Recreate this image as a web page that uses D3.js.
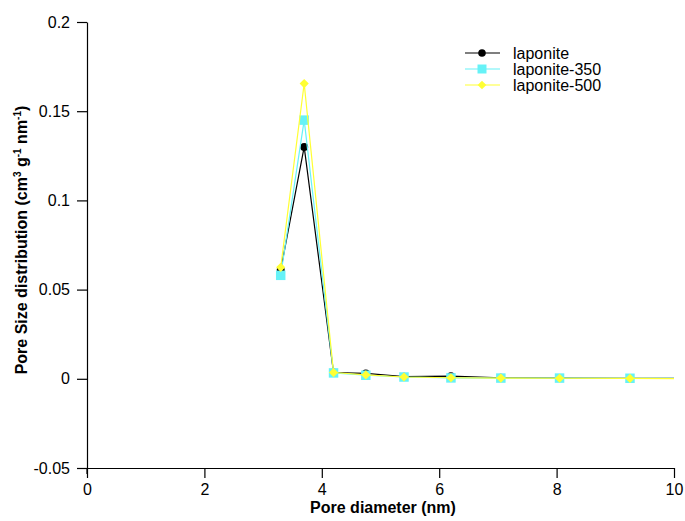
<!DOCTYPE html>
<html><head><meta charset="utf-8">
<script src="https://cdn.jsdelivr.net/npm/d3@7"></script>
<style>body{margin:0;background:#fff}svg{display:block}text{font-family:"Liberation Sans",Arial,sans-serif}</style>
</head><body>
<svg id="c" width="685" height="521"></svg>
<script>
const poreDiameter = [3.3, 3.7, 4.2, 4.75, 5.4, 6.2, 7.05, 8.05, 9.25, 10.6];
const laponite    = [0.061, 0.130, 0.0035, 0.0030, 0.0012, 0.0015, 0.0006, 0.0004, 0.0003, 0.0002];
const laponite350 = [0.058, 0.145, 0.0033, 0.0020, 0.0010, 0.0005, 0.0004, 0.0004, 0.0003, 0.0002];
const laponite500 = [0.0625, 0.1655, 0.0035, 0.0022, 0.0010, 0.0006, 0.0004, 0.0003, 0.0002, 0.0001];
const seriesNames = ["laponite", "laponite-350", "laponite-500"];
const xTicks = [0, 2, 4, 6, 8, 10];
const yTicks = [-0.05, 0, 0.05, 0.1, 0.15, 0.2];

const svg = d3.select("#c");
const x = d3.scaleLinear().domain([0, 10]).range([87, 674]);
const y = d3.scaleLinear().domain([-0.05, 0.2]).range([468, 22]);

svg.append("defs").append("clipPath").attr("id","clip")
  .append("rect").attr("x",87).attr("y",0).attr("width",587).attr("height",468);

// axes
const yAxis = svg.append("g").attr("transform","translate(87,0)")
  .call(d3.axisLeft(y).tickValues(yTicks).tickSize(10).tickSizeOuter(0)
    .tickFormat(d => d === 0 ? "0" : String(+d.toFixed(2))));
const xAxis = svg.append("g").attr("transform","translate(0,468)")
  .call(d3.axisBottom(x).tickValues(xTicks).tickSize(10).tickSizeOuter(0).tickFormat(d3.format("d")));
[yAxis, xAxis].forEach(g => {
  g.select(".domain").attr("stroke","#000").attr("stroke-width",1.2);
  g.selectAll(".tick line").attr("stroke","#000").attr("stroke-width",1.2);
  g.selectAll(".tick text").attr("font-size",16).attr("fill","#000")
    .attr("font-family",'"Liberation Sans",Arial,sans-serif');
});
yAxis.selectAll(".tick text").attr("x",-17);
xAxis.selectAll(".tick text").attr("y",16);
// extend y axis slightly below x axis
svg.append("line").attr("x1",87).attr("x2",87).attr("y1",468).attr("y2",474).attr("stroke","#000").attr("stroke-width",1.2);

// titles
svg.append("text").attr("x",383).attr("y",513).attr("text-anchor","middle")
  .attr("font-size",16).attr("font-weight","bold").text("Pore diameter (nm)");
const yt = svg.append("text").attr("transform","translate(27,240) rotate(-90)")
  .attr("text-anchor","middle").attr("font-size",16).attr("font-weight","bold");
yt.append("tspan").text("Pore Size distribution (cm");
yt.append("tspan").attr("font-size",10).attr("dy",-6).text("3");
yt.append("tspan").attr("dy",6).text(" g");
yt.append("tspan").attr("font-size",10).attr("dy",-6).text("-1");
yt.append("tspan").attr("dy",6).text(" nm");
yt.append("tspan").attr("font-size",10).attr("dy",-6).text("-1");
yt.append("tspan").attr("dy",6).text(")");

const series = [
  {name: seriesNames[0], values: laponite,    color: "#000000", shape: d3.symbolCircle, size: 50, rot: 0},
  {name: seriesNames[1], values: laponite350, color: "#66f2f7", shape: d3.symbolSquare, size: 90, rot: 0},
  {name: seriesNames[2], values: laponite500, color: "#ffff33", shape: d3.symbolSquare, size: 42, rot: 45}
];

const line = d3.line().x((d,i) => x(poreDiameter[i])).y(d => y(d));
const plot = svg.append("g").attr("clip-path","url(#clip)");
series.forEach(s => {
  plot.append("path").datum(s.values).attr("d", line)
    .attr("fill","none").attr("stroke", s.color).attr("stroke-width",1.2);
  plot.selectAll(null).data(s.values.filter((v,i) => poreDiameter[i] <= 10)).enter().append("path")
    .attr("d", d3.symbol().type(s.shape).size(s.size))
    .attr("transform",(d,i) => `translate(${x(poreDiameter[i])},${y(d)}) rotate(${s.rot})`)
    .attr("fill", s.color);
});

// legend
const lg = svg.append("g");
series.forEach((s,i) => {
  const yy = 53 + i*16;
  lg.append("line").attr("x1",465).attr("x2",500).attr("y1",yy).attr("y2",yy)
    .attr("stroke", s.color).attr("stroke-width",1.2);
  lg.append("path").attr("d", d3.symbol().type(s.shape).size(s.size*0.9))
    .attr("transform",`translate(482,${yy}) rotate(${s.rot})`).attr("fill", s.color);
  lg.append("text").attr("x",513).attr("y",yy+6).attr("font-size",16).text(s.name);
});
</script>
</body></html>
